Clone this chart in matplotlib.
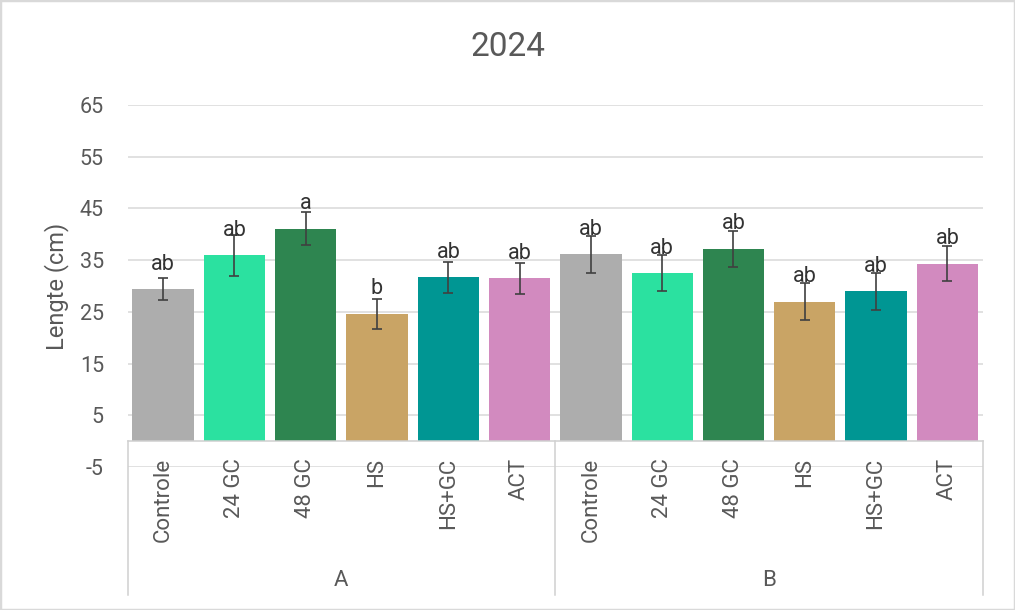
import matplotlib.pyplot as plt
from matplotlib.patches import Rectangle

plt.rcParams['font.family'] = ['Roboto', 'DejaVu Sans']
plt.rcParams['axes.unicode_minus'] = False

treatments = ["Controle", "24 GC", "48 GC", "HS", "HS+GC", "ACT"]
groups = ["A", "B"]
means_a = [29.4, 35.9, 41.1, 24.6, 31.7, 31.5]
means_b = [36.1, 32.5, 37.2, 27.0, 29.0, 34.3]
err_a = [2.2, 4.0, 3.2, 2.9, 3.0, 3.0]
err_b = [3.5, 3.4, 3.5, 3.5, 3.6, 3.4]
letters_a = ["ab", "ab", "a", "b", "ab", "ab"]
letters_b = ["ab", "ab", "ab", "ab", "ab", "ab"]
colors = ["#ADADAD", "#2BE1A0", "#2E8550", "#C9A465", "#009693", "#D28ABF"]

text_col = "#595959"
line_col = "#D0D0D0"

means = means_a + means_b
errs = err_a + err_b
letters = letters_a + letters_b
labels = treatments * len(groups)
x = list(range(len(means)))

fig = plt.figure(figsize=(10.15, 6.1), dpi=100)
ax = fig.add_axes([127.5 / 1015, 1 - 467 / 610, 855.5 / 1015, 362 / 610])

ax.bar(x, means, width=0.86, color=colors * 2, zorder=2)
ax.errorbar(x, means, yerr=errs, fmt="none", ecolor="#404040",
            elinewidth=1.2, capsize=3.6, capthick=1.2, zorder=3)

for xi, m, lt in zip(x, means, letters):
    ax.annotate(lt, (xi, m), xytext=(0, 14), textcoords="offset points",
                ha="center", va="baseline", fontsize=15.5, color="#333333", zorder=4)

ax.set_xlim(-0.5, len(means) - 0.5)
ax.set_ylim(-5, 65)
ax.set_yticks(range(-5, 66, 10))
ax.yaxis.grid(True, color="#D9D9D9", linewidth=1.1, zorder=0)
ax.set_axisbelow(True)
for s in ax.spines.values():
    s.set_visible(False)
ax.set_xticks([])
ax.tick_params(axis="y", length=0, pad=17, labelsize=15.5, labelcolor=text_col)

ax.set_ylabel("Lengte (cm)", fontsize=17, color=text_col)
ax.yaxis.set_label_coords(-0.068, 0.5)

# category axis box
trans = ax.get_xaxis_transform()
y0 = 5 / 70
ybot = (467 - 595) / 362
ax.plot([-0.5, len(means) - 0.5], [y0, y0], color=line_col, lw=1.1,
        transform=trans, clip_on=False, zorder=3)
for b in [-0.5, 5.5, 11.5]:
    ax.plot([b, b], [y0, ybot], color=line_col, lw=1.1,
            transform=trans, clip_on=False, zorder=3)

for xi, lab in zip(x, labels):
    ax.text(xi, (467 - 458) / 362, lab, rotation=90, ha="center", va="top",
            fontsize=16, color=text_col, transform=trans, clip_on=False)

for gi, g in enumerate(groups):
    ax.text(gi * 6 + 2.5, (467 - 581) / 362, g, ha="center", va="center",
            fontsize=16, color=text_col, transform=trans, clip_on=False)

fig.text(0.5, 1 - 47 / 610, "2024", ha="center", va="center",
         fontsize=24, color=text_col)

fig.patches.append(Rectangle((0, 0), 1, 1, transform=fig.transFigure,
                             fill=False, edgecolor="#D9D9D9", linewidth=2.5))

fig.savefig("out.png", dpi=100)
